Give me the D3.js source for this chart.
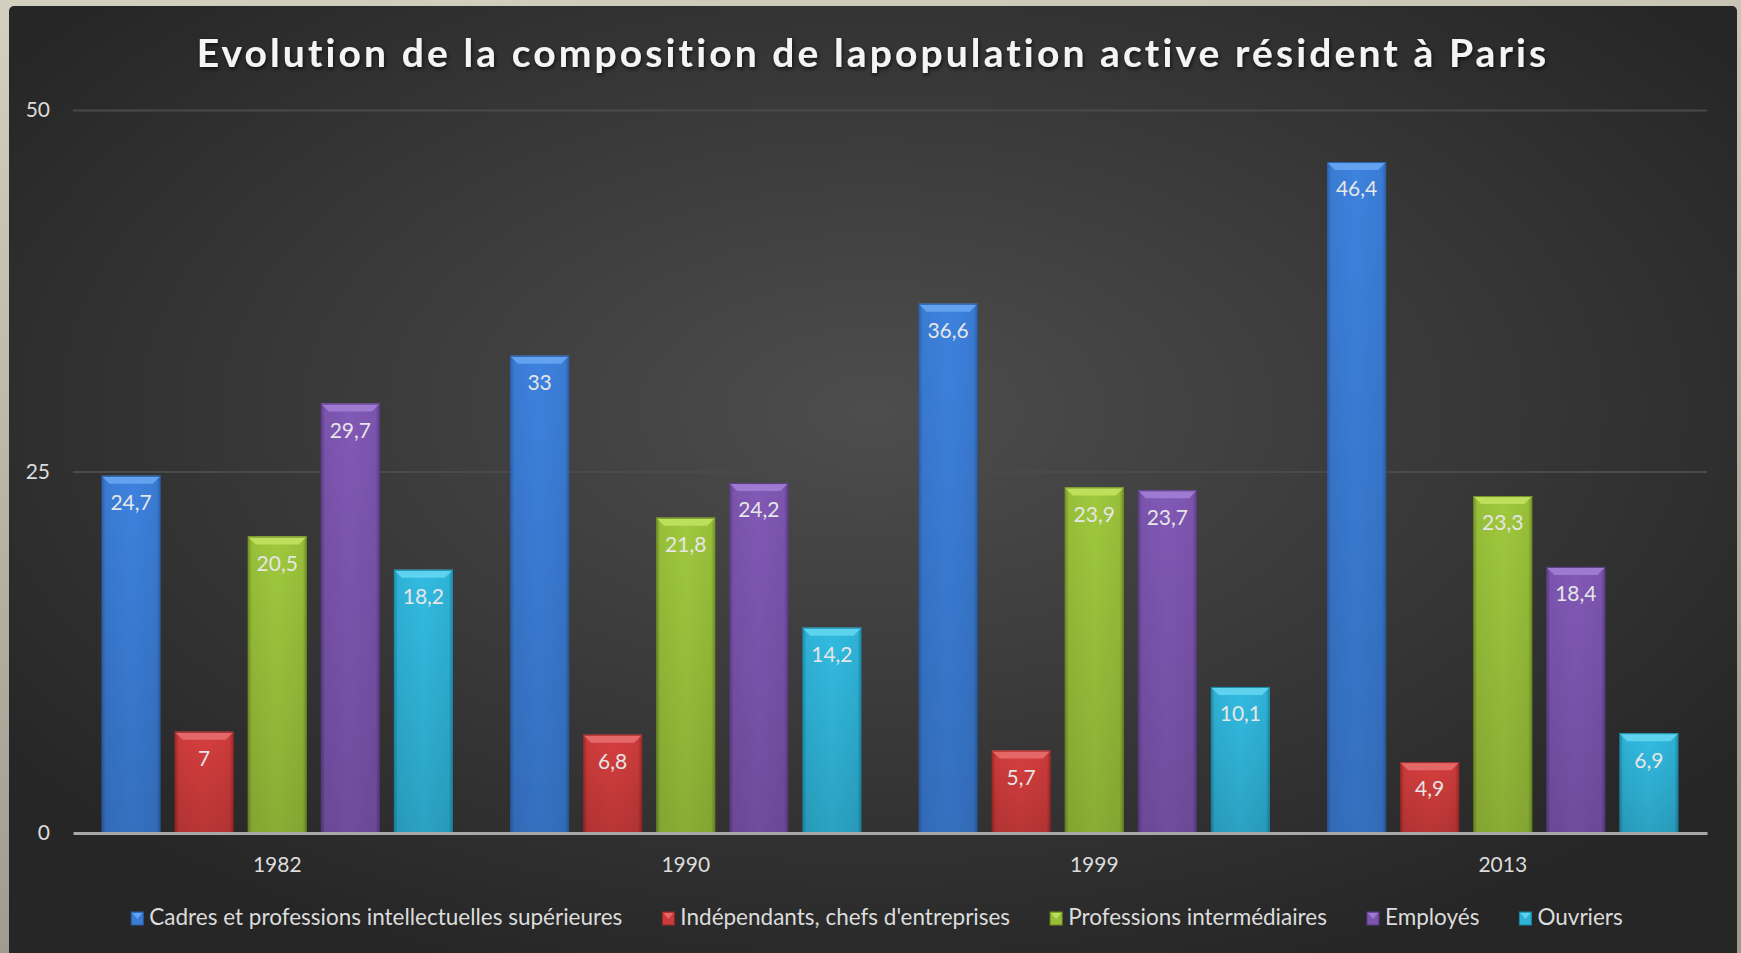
<!DOCTYPE html>
<html>
<head>
<meta charset="utf-8">
<script src="https://cdn.jsdelivr.net/npm/d3@7"></script>
<style>
  body { margin: 0; background: #c9c6b6; }
  svg { display: block; }
</style>
</head>
<body>
<div id="chart"></div>
<script>
// data
var years = ["1982", "1990", "1999", "2013"];
var seriesNames = [
    "Cadres et professions intellectuelles supérieures",
    "Indépendants, chefs d'entreprises",
    "Professions intermédiaires",
    "Employés",
    "Ouvriers"
];
var cadres = [24.7, 33, 36.6, 46.4];
var independants = [7, 6.8, 5.7, 4.9];
var intermediaires = [20.5, 21.8, 23.9, 23.3];
var employes = [29.7, 24.2, 23.7, 18.4];
var ouvriers = [18.2, 14.2, 10.1, 6.9];
var yTicks = [0, 25, 50];

var seriesValues = [cadres, independants, intermediaires, employes, ouvriers];
// base, light, dark per series
var colors = [
    ["#3a7bd3", "#62a2ee", "#2a5ea8"],
    ["#cc3b3b", "#e56868", "#9c2626"],
    ["#98bf3a", "#bcdf5c", "#6f8f22"],
    ["#7b54ad", "#9e7bd0", "#5a3a86"],
    ["#2fb2d6", "#5ed3f0", "#1b88a8"]
];

var width = 1741,
    height = 953,
    margin = {top: 110, right: 34, bottom: 120, left: 73};

var svg = d3.select("#chart")
    .append("svg")
    .attr("width", width)
    .attr("height", height);

var defs = svg.append("defs");

var outerGrad = defs.append("linearGradient")
    .attr("id", "outerGrad")
    .attr("x1", "0").attr("y1", "0")
    .attr("x2", "0.2").attr("y2", "1");
outerGrad.append("stop").attr("offset", "0%").style("stop-color", "#d3d0c0");
outerGrad.append("stop").attr("offset", "100%").style("stop-color", "#9c9a8d");

var panelGrad = defs.append("radialGradient")
    .attr("id", "panelGrad")
    .attr("cx", "0.5").attr("cy", "0.42")
    .attr("r", "0.62");
panelGrad.append("stop").attr("offset", "0%").style("stop-color", "#4d4d4d");
panelGrad.append("stop").attr("offset", "55%").style("stop-color", "#383838");
panelGrad.append("stop").attr("offset", "100%").style("stop-color", "#262626");

var shadow = defs.append("filter")
    .attr("id", "titleShadow")
    .attr("x", "-5%").attr("y", "-30%")
    .attr("width", "110%").attr("height", "160%");
shadow.append("feDropShadow")
    .attr("dx", 1).attr("dy", 2)
    .attr("stdDeviation", 2)
    .attr("flood-color", "#000")
    .attr("flood-opacity", 0.7);

var shade = defs.append("linearGradient")
    .attr("id", "barShade")
    .attr("x1", "0").attr("x2", "0")
    .attr("y1", "0").attr("y2", "1");
shade.append("stop").attr("offset", "0%").style("stop-color", "#000").style("stop-opacity", 0);
shade.append("stop").attr("offset", "100%").style("stop-color", "#000").style("stop-opacity", 0.14);

seriesNames.forEach((s, i) => {
    var g = defs.append("linearGradient")
        .attr("id", "barGrad" + i)
        .attr("x1", "0").attr("x2", "1")
        .attr("y1", "0").attr("y2", "0");
    g.append("stop").attr("offset", "0%").style("stop-color", colors[i][2]);
    g.append("stop").attr("offset", "7%").style("stop-color", colors[i][0]);
    g.append("stop").attr("offset", "50%").style("stop-color", d3.color(colors[i][0]).brighter(0.15));
    g.append("stop").attr("offset", "93%").style("stop-color", colors[i][0]);
    g.append("stop").attr("offset", "100%").style("stop-color", colors[i][2]);
});

// background frame
svg.append("rect")
    .attr("width", width)
    .attr("height", height)
    .style("fill", "url(#outerGrad)");

svg.append("rect")
    .attr("x", 9)
    .attr("y", 6)
    .attr("width", 1728)
    .attr("height", height + 10)
    .attr("rx", 5)
    .style("fill", "url(#panelGrad)");

// title
svg.append("text")
    .attr("x", 873)
    .attr("y", 67)
    .attr("text-anchor", "middle")
    .attr("filter", "url(#titleShadow)")
    .text("Evolution de la composition de lapopulation active résident à Paris")
    .style("font-family", "Lato, 'Open Sans', sans-serif")
    .style("font-weight", "bold")
    .style("font-size", "39px")
    .style("letter-spacing", "3.1px")
    .style("fill", "#f4f4f4");

var x0 = d3.scaleBand()
    .domain(years)
    .range([margin.left, width - margin.right]);

var x1 = d3.scaleBand()
    .domain(d3.range(seriesNames.length))
    .range([0, x0.bandwidth()])
    .paddingInner(0.19)
    .paddingOuter(0.39);

var y = d3.scaleLinear()
    .domain([0, 50])
    .range([height - margin.bottom, margin.top]);

// gridlines
var grid = svg.append("g")
    .attr("transform", "translate(" + margin.left + ",0)")
    .call(d3.axisLeft(y)
        .tickValues(yTicks.filter(t => t > 0))
        .tickSize(-(width - margin.left - margin.right))
        .tickFormat(""));
grid.select(".domain").remove();
grid.selectAll(".tick line")
    .style("stroke", "#4a4a4a")
    .style("stroke-width", "2px");

// y labels
var yAxis = svg.append("g")
    .attr("transform", "translate(" + margin.left + ",0)")
    .call(d3.axisLeft(y).tickValues(yTicks).tickSize(0).tickPadding(23));
yAxis.select(".domain").remove();
yAxis.selectAll(".tick text")
    .style("fill", "#dcdcdc")
    .style("font-family", "Lato, 'Open Sans', sans-serif")
    .style("font-size", "21px");

// bars
var b = 8;
var groups = svg.append("g")
    .selectAll("g")
    .data(years)
    .join("g")
    .attr("transform", d => "translate(" + x0(d) + ",0)");

var bars = groups.selectAll("g.bar")
    .data((d, yi) => seriesValues.map((vals, si) => ({si: si, v: vals[yi]})))
    .join("g")
    .attr("class", "bar");

bars.append("rect")
    .attr("x", d => x1(d.si))
    .attr("y", d => y(d.v))
    .attr("width", x1.bandwidth())
    .attr("height", d => y(0) - y(d.v))
    .style("fill", d => "url(#barGrad" + d.si + ")");

bars.append("rect")
    .attr("x", d => x1(d.si))
    .attr("y", d => y(d.v))
    .attr("width", x1.bandwidth())
    .attr("height", d => y(0) - y(d.v))
    .style("fill", "url(#barShade)");

bars.append("path")
    .attr("d", d => {
        var x = x1(d.si), w = x1.bandwidth(), t = y(d.v);
        return "M" + x + "," + t + "L" + (x + w) + "," + t +
            "L" + (x + w - b) + "," + (t + b) + "L" + (x + b) + "," + (t + b) + "Z";
    })
    .style("fill", d => colors[d.si][1]);

bars.append("line")
    .attr("x1", d => x1(d.si))
    .attr("x2", d => x1(d.si) + x1.bandwidth())
    .attr("y1", d => y(d.v) + 0.5)
    .attr("y2", d => y(d.v) + 0.5)
    .style("stroke", d => colors[d.si][2])
    .style("stroke-width", "1px");

bars.append("text")
    .attr("x", d => x1(d.si) + x1.bandwidth() / 2)
    .attr("y", d => y(d.v) + 27)
    .attr("dy", "0.35em")
    .attr("text-anchor", "middle")
    .text(d => String(d.v).replace(".", ","))
    .style("fill", "#e6e6e6")
    .style("font-family", "Lato, 'Open Sans', sans-serif")
    .style("font-size", "21px");

// x axis
var xAxis = svg.append("g")
    .attr("transform", "translate(0," + y(0) + ")")
    .call(d3.axisBottom(x0).tickSize(0).tickSizeOuter(0).tickPadding(24));
xAxis.select(".domain")
    .style("stroke", "#a8a8a8")
    .style("stroke-width", "3px");
xAxis.selectAll(".tick text")
    .style("fill", "#dcdcdc")
    .style("font-family", "Lato, 'Open Sans', sans-serif")
    .style("font-size", "21px");

// legend
var legend = svg.append("g")
    .attr("transform", "translate(0,925)");

var items = legend.selectAll("g")
    .data(seriesNames)
    .join("g");

items.append("rect")
    .attr("y", -13)
    .attr("width", 12)
    .attr("height", 13)
    .style("fill", (d, i) => colors[i][0])
    .style("stroke", (d, i) => colors[i][2])
    .style("stroke-width", "1px");

items.append("path")
    .attr("d", "M1,-12L11,-12L6,-6Z")
    .style("fill", (d, i) => colors[i][1]);

items.append("text")
    .attr("x", 18)
    .text(d => d)
    .style("fill", "#dcdcdc")
    .style("font-family", "Lato, 'Open Sans', sans-serif")
    .style("font-size", "22.5px");

var lx = 0;
var offsets = [];
items.each(function () {
    offsets.push(lx);
    lx += 18 + this.querySelector("text").getComputedTextLength() + 40;
});
lx -= 40;
var start = 877 - lx / 2;
items.attr("transform", (d, i) => "translate(" + (start + offsets[i]) + ",0)");
</script>
</body>
</html>
